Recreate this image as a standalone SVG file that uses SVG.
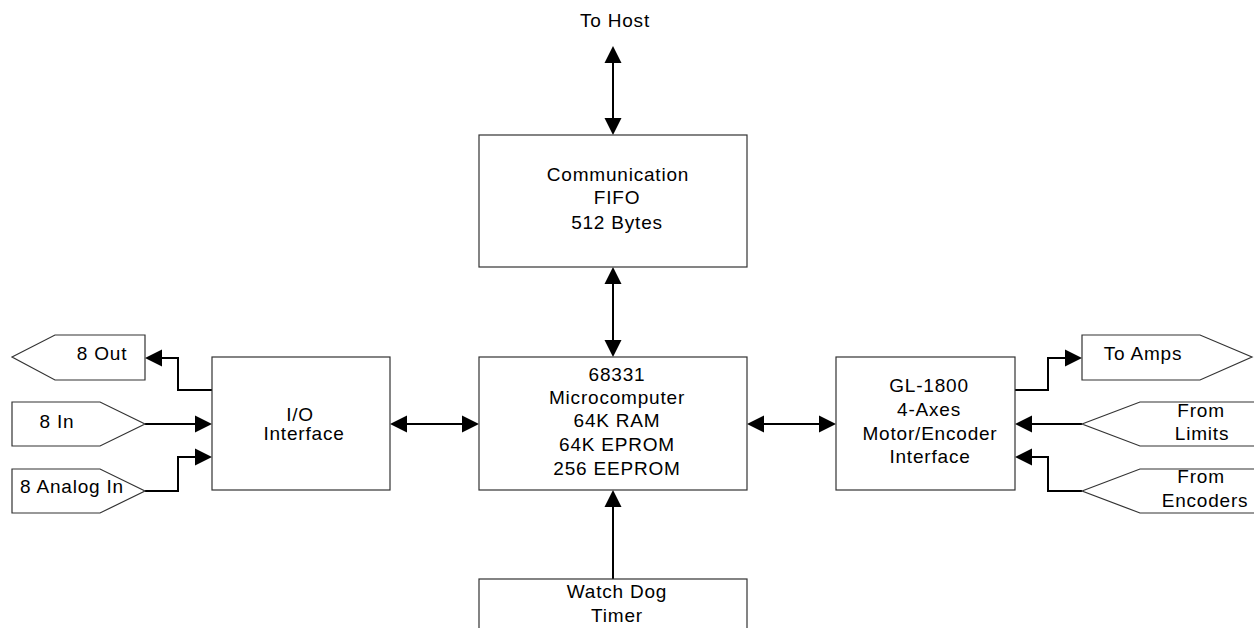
<svg xmlns="http://www.w3.org/2000/svg" width="1254" height="628" viewBox="0 0 1254 628">
<style>
.box{fill:#fff;stroke:#333;stroke-width:1.2}
.t{font-family:"Liberation Sans",Arial,sans-serif;font-size:19px;fill:#000;text-anchor:middle;letter-spacing:0.8px}
.c{fill:none;stroke:#000;stroke-width:2}
</style>
<defs>
<marker id="ah" markerUnits="userSpaceOnUse" markerWidth="17" markerHeight="18" viewBox="0 0 17 18" refX="9" refY="9" orient="auto-start-reverse">
<path d="M0,0.5 L17,9 L0,17.5 z" fill="#000"/>
</marker>
</defs>
<rect width="1254" height="628" fill="#fff"/>
<g id="connectors">
<path class="c" d="M613,54 V127" marker-start="url(#ah)" marker-end="url(#ah)"/>
<path class="c" d="M613,275 V349" marker-start="url(#ah)" marker-end="url(#ah)"/>
<path class="c" d="M613,579 V498" marker-end="url(#ah)"/>
<path class="c" d="M398,424 H471" marker-start="url(#ah)" marker-end="url(#ah)"/>
<path class="c" d="M755,424 H828" marker-start="url(#ah)" marker-end="url(#ah)"/>
<path class="c" d="M212,390 H178 V358 H153" marker-end="url(#ah)"/>
<path class="c" d="M145,424 H204" marker-end="url(#ah)"/>
<path class="c" d="M145,491 H178 V457 H204" marker-end="url(#ah)"/>
<path class="c" d="M1015,390 H1048 V358 H1074" marker-end="url(#ah)"/>
<path class="c" d="M1082,424 H1023" marker-end="url(#ah)"/>
<path class="c" d="M1082,491 H1048 V457 H1023" marker-end="url(#ah)"/>
</g>
<g id="to-host"><text class="t" x="615" y="27">To Host</text></g>
<g id="comm-fifo">
<rect class="box" x="479" y="135" width="268" height="132"/>
<text class="t" x="618" y="181">Communication</text>
<text class="t" x="617" y="204">FIFO</text>
<text class="t" x="617" y="229">512 Bytes</text>
</g>
<g id="micro">
<rect class="box" x="479" y="357" width="268" height="133"/>
<text class="t" x="617" y="381">68331</text>
<text class="t" x="617" y="404">Microcomputer</text>
<text class="t" x="617" y="427">64K RAM</text>
<text class="t" x="617" y="451">64K EPROM</text>
<text class="t" x="617" y="475">256 EEPROM</text>
</g>
<g id="watchdog">
<rect class="box" x="479" y="579" width="268" height="60"/>
<text class="t" x="617" y="598">Watch Dog</text>
<text class="t" x="617" y="622">Timer</text>
</g>
<g id="io">
<rect class="box" x="212" y="357" width="178" height="133"/>
<text class="t" x="300" y="421">I/O</text>
<text class="t" x="304" y="440">Interface</text>
</g>
<g id="gl1800">
<rect class="box" x="836" y="357" width="179" height="133"/>
<text class="t" x="929" y="392">GL-1800</text>
<text class="t" x="929" y="416">4-Axes</text>
<text class="t" x="930" y="440">Motor/Encoder</text>
<text class="t" x="930" y="463">Interface</text>
</g>
<g id="out8">
<polygon class="box" points="12,357 55,335 145,335 145,380 55,380"/>
<text class="t" x="102" y="360">8 Out</text>
</g>
<g id="in8">
<polygon class="box" points="12,402 100,402 145,424 100,446 12,446"/>
<text class="t" x="57" y="428">8 In</text>
</g>
<g id="analog8">
<polygon class="box" points="12,469 100,469 145,491 100,513 12,513"/>
<text class="t" x="72" y="493">8 Analog In</text>
</g>
<g id="to-amps">
<polygon class="box" points="1082,335 1200,335 1252,357 1200,380 1082,380"/>
<text class="t" x="1143" y="360">To Amps</text>
</g>
<g id="from-limits">
<polygon class="box" points="1082,424 1140,402 1262,402 1262,446 1140,446"/>
<text class="t" x="1201" y="417">From</text>
<text class="t" x="1202" y="440">Limits</text>
</g>
<g id="from-encoders">
<polygon class="box" points="1082,491 1140,469 1262,469 1262,513 1140,513"/>
<text class="t" x="1201" y="483">From</text>
<text class="t" x="1205" y="507">Encoders</text>
</g>
</svg>
